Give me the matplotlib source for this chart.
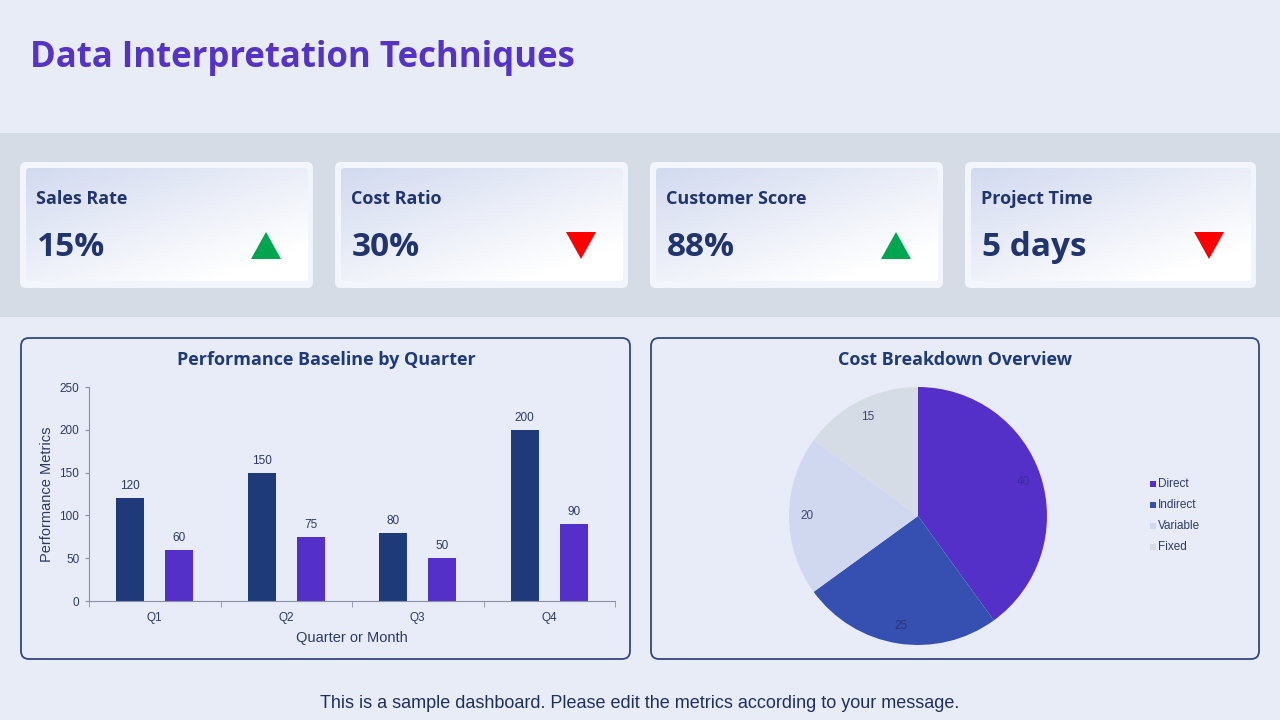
import matplotlib
matplotlib.use("Agg")
import matplotlib.pyplot as plt
import numpy as np
from matplotlib.patches import FancyBboxPatch, Rectangle, Polygon

# ---------------- data ----------------
kpi_labels = ["Sales Rate", "Cost Ratio", "Customer Score", "Project Time"]
kpi_values = ["15%", "30%", "88%", "5 days"]
kpi_trend = ["up", "down", "up", "down"]

quarters = ["Q1", "Q2", "Q3", "Q4"]
series_a = [120, 150, 80, 200]
series_b = [60, 75, 50, 90]

cost_labels = ["Direct", "Indirect", "Variable", "Fixed"]
cost_values = [40, 25, 20, 15]

# ---------------- style ----------------
W, H = 1280, 720
BG = "#E8ECF7"
BAND = "#D6DCE6"
NAVY = "#1F3A78"
PURPLE = "#5530C8"
TITLE_C = "#5533C4"
TXT = "#2E3A66"
HEAD_FONT = "Open Sans"
pie_colors = ["#5530C8", "#3550B0", "#D0D8F0", "#D6DCE6"]

fig = plt.figure(figsize=(W / 100, H / 100), dpi=100)
fig.patch.set_facecolor(BG)

# full-figure overlay axes in pixel coords (y downward)
ov = fig.add_axes([0, 0, 1, 1])
ov.set_xlim(0, W)
ov.set_ylim(H, 0)
ov.axis("off")
ov.set_zorder(0)


def px_rect(x0, y0, x1, y1):
    return [x0 / W, 1 - y1 / H, (x1 - x0) / W, (y1 - y0) / H]


# title
ov.text(30, 58, "Data Interpretation Techniques", fontsize=25, fontweight="bold",
        color=TITLE_C, family=HEAD_FONT, va="center", ha="left")

# band
ov.add_patch(Rectangle((0, 133), W, 184, facecolor=BAND, edgecolor="none"))

# gradient image
gy, gx = np.mgrid[0:1:100j, 0:1:200j]
t = np.clip((gx * 0.55 + gy * 0.65), 0, 1)
c0 = np.array([0xD2, 0xDA, 0xF0]) / 255.0
c1 = np.array([1.0, 1.0, 1.0])
grad = c0[None, None, :] * (1 - t[..., None]) + c1[None, None, :] * t[..., None]

cards = [(20, 313), (335, 628), (650, 943), (965, 1256)]
for i, (x0, x1) in enumerate(cards):
    y0, y1 = 162, 288
    outer = FancyBboxPatch((x0, y0), x1 - x0, y1 - y0,
                           boxstyle="round,pad=0,rounding_size=6",
                           facecolor="#F3F5FC", edgecolor="none", zorder=1)
    ov.add_patch(outer)
    ix0, iy0, ix1, iy1 = x0 + 6, y0 + 6, x1 - 5, y1 - 7
    inner = FancyBboxPatch((ix0, iy0), ix1 - ix0, iy1 - iy0,
                           boxstyle="round,pad=0,rounding_size=4",
                           facecolor="none", edgecolor="none", zorder=2)
    ov.add_patch(inner)
    im = ov.imshow(grad, extent=(ix0, ix1, iy1, iy0), zorder=2, aspect="auto",
                   interpolation="bilinear")
    im.set_clip_path(inner)
    ov.text(x0 + 16, 199, kpi_labels[i], fontsize=13, fontweight="bold",
            color="#22346E", family=HEAD_FONT, va="center", ha="left", zorder=3)
    ov.text(x0 + 17, 248, kpi_values[i], fontsize=24, fontweight="bold",
            color="#22346E", family=HEAD_FONT, va="center", ha="left", zorder=3)
    cx = x1 - 47
    if kpi_trend[i] == "up":
        tri = Polygon([[cx - 15, 259], [cx + 15, 259], [cx, 232]], closed=True,
                      facecolor="#00A550", edgecolor="none", zorder=3)
    else:
        tri = Polygon([[cx - 15, 232], [cx + 15, 232], [cx, 259]], closed=True,
                      facecolor="#FF0000", edgecolor="none", zorder=3)
    ov.add_patch(tri)

# panels
for (x0, x1) in [(21, 630), (651, 1259)]:
    ov.add_patch(FancyBboxPatch((x0, 338), x1 - x0, 321,
                                boxstyle="round,pad=0,rounding_size=8",
                                facecolor="#E8ECF8", edgecolor="#34467E",
                                linewidth=1.3, zorder=1))

ov.text(326, 360, "Performance Baseline by Quarter", fontsize=13, fontweight="bold",
        color=NAVY, family=HEAD_FONT, va="center", ha="center", zorder=3)
ov.text(955, 360, "Cost Breakdown Overview", fontsize=13, fontweight="bold",
        color=NAVY, family=HEAD_FONT, va="center", ha="center", zorder=3)

ov.text(640, 703, "This is a sample dashboard. Please edit the metrics according to your message.",
        fontsize=13, color="#1F2F60", family="Liberation Sans", va="center", ha="center")

# ---------------- bar chart ----------------
ax = fig.add_axes(px_rect(89, 387, 615, 601))
ax.set_facecolor("none")
x = np.arange(len(quarters))
off, bw = 0.186, 0.213
b1 = ax.bar(x - off, series_a, width=bw, color=NAVY, zorder=2)
b2 = ax.bar(x + off, series_b, width=bw, color=PURPLE, zorder=2)
for bars in (b1, b2):
    for r in bars:
        ax.text(r.get_x() + r.get_width() / 2, r.get_height() + 7, f"{r.get_height():.0f}",
                ha="center", va="bottom", fontsize=8.5, color=TXT, family="Liberation Sans")
ax.set_xlim(-0.5, 3.5)
ax.set_ylim(0, 250)
ax.set_yticks([0, 50, 100, 150, 200, 250])
ax.set_xticks(x)
ax.set_xticklabels(quarters)
ax.set_xticks(np.arange(-0.5, 4.0, 1.0), minor=True)
ax.tick_params(axis="x", which="major", length=0, pad=8, labelsize=8.5, labelcolor=TXT)
ax.tick_params(axis="x", which="minor", length=4, color="#8A90A8")
ax.tick_params(axis="y", length=3, color="#8A90A8", labelsize=8.5, labelcolor=TXT, pad=4)
for lab in ax.get_xticklabels() + ax.get_yticklabels():
    lab.set_family("Liberation Sans")
for s in ["top", "right"]:
    ax.spines[s].set_visible(False)
for s in ["left", "bottom"]:
    ax.spines[s].set_color("#8A90A8")
ax.set_xlabel("Quarter or Month", fontsize=10.5, color=TXT, family="Liberation Sans", labelpad=5)
ax.set_ylabel("Performance Metrics", fontsize=10.5, color=TXT, family="Liberation Sans", labelpad=4)

# ---------------- pie chart ----------------
pax = fig.add_axes(px_rect(789, 387, 1047, 645))
pax.set_facecolor("none")
total = sum(cost_values)
wedges, texts, autotexts = pax.pie(
    cost_values, colors=pie_colors, startangle=90, counterclock=False, radius=1,
    autopct=lambda p: f"{p * total / 100:.0f}", pctdistance=0.86,
    wedgeprops=dict(linewidth=0),
    textprops=dict(fontsize=8.5, color="#3A4470", family="Liberation Sans"))
autotexts[0].set_color("#3A2E9A")
autotexts[1].set_color("#2A357A")
pax.set_xlim(-1, 1)
pax.set_ylim(-1, 1)
pax.set_aspect("equal")
pax.axis("off")

# legend
for i, lab in enumerate(cost_labels):
    yy = 484 + i * 21
    ov.add_patch(Rectangle((1150, yy - 3), 6, 6, facecolor=pie_colors[i], edgecolor="none", zorder=3))
    ov.text(1158, yy, lab, fontsize=8.5, color=TXT, family="Liberation Sans",
            va="center", ha="left", zorder=3)

fig.savefig("out.png", dpi=100, facecolor=BG)
